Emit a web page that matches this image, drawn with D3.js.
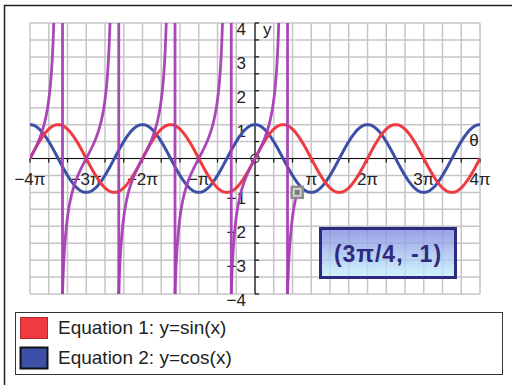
<!DOCTYPE html>
<html>
<head>
<meta charset="utf-8">
<script src="https://cdn.jsdelivr.net/npm/d3@7"></script>
<style>
  html, body { margin: 0; padding: 0; background: #fff; }
  svg { display: block; }
  text { font-family: "Liberation Sans", Arial, sans-serif; }
</style>
</head>
<body>
<svg id="chart" width="512" height="385"></svg>
<script>
const PI = Math.PI;

// Plot window: θ from −4π to 4π, y from −4 to 4
const xDomainPi = [-4, 4];
const yDomain = [-4, 4];

// Tick labels along the θ axis (multiples of π) and the y axis
const xTickMultiples = [-4, -3, -2, -1, 1, 2, 3, 4];
const xTickLabels = ["\u22124\u03c0", "\u22123\u03c0", "\u22122\u03c0", "\u2212\u03c0", "\u03c0", "2\u03c0", "3\u03c0", "4\u03c0"];
const yTickValues = [4, 3, 2, 1, -1, -2, -3, -4];
const yTickLabels = ["4", "3", "2", "1", "\u22121", "\u22122", "\u22123", "\u22124"];

// Graphed equations
const equationNames = ["Equation 1: y=sin(x)", "Equation 2: y=cos(x)"];
const equationFns = [Math.sin, Math.cos];
const equationColors = ["#ef3b40", "#3b50a6"];
const swatchStrokes = ["#b0282c", "#111111"];

// Traced curve y = tan(x), drawn from −4π up to the traced point
const traceStartPi = -4;
const tracePoint = { xPi: 0.75, y: -1, label: "(3\u03c0/4, -1)" };

const svg = d3.select("#chart");

const x = d3.scaleLinear().domain([xDomainPi[0] * PI, xDomainPi[1] * PI]).range([30, 480]);
const y = d3.scaleLinear().domain(yDomain).range([294, 23]);

// Outer frame
svg.append("rect")
  .attr("x", 4.5).attr("y", 5.5).attr("width", 520).attr("height", 400)
  .attr("fill", "#fff").attr("stroke", "#222").attr("stroke-width", 1.5);

// Grid: every π/3 horizontally, every 0.5 vertically
const gridX = d3.range(-12, 13).map(k => k * PI / 3);
const gridY = d3.range(-8, 9).map(k => k * 0.5);
const grid = svg.append("g").attr("stroke", "#c6c6c8").attr("stroke-width", 1.5);
grid.selectAll("line.gx").data(gridX).join("line")
  .attr("x1", d => x(d)).attr("x2", d => x(d))
  .attr("y1", y(yDomain[1])).attr("y2", y(yDomain[0]));
grid.selectAll("line.gy").data(gridY).join("line")
  .attr("x1", x.range()[0]).attr("x2", x.range()[1])
  .attr("y1", d => y(d)).attr("y2", d => y(d));

// Clip to the plot window
svg.append("defs").append("clipPath").attr("id", "plotClip")
  .append("rect")
  .attr("x", x.range()[0]).attr("y", y(yDomain[1]))
  .attr("width", x.range()[1] - x.range()[0])
  .attr("height", y(yDomain[0]) - y(yDomain[1]));

// Axes
const axes = svg.append("g").attr("stroke", "#111").attr("stroke-width", 1.2);
axes.append("line")
  .attr("x1", x.range()[0]).attr("x2", x.range()[1])
  .attr("y1", y(0)).attr("y2", y(0));
axes.append("line")
  .attr("x1", x(0)).attr("x2", x(0))
  .attr("y1", y(yDomain[1])).attr("y2", y(yDomain[0]));
axes.selectAll("line.tx").data(gridX).join("line")
  .attr("x1", d => x(d)).attr("x2", d => x(d))
  .attr("y1", y(0)).attr("y2", y(0) + 4);
axes.selectAll("line.ty").data(gridY).join("line")
  .attr("x1", x(0)).attr("x2", x(0) + 4)
  .attr("y1", d => y(d)).attr("y2", d => y(d));

// Origin marker
svg.append("circle")
  .attr("cx", x(0)).attr("cy", y(0)).attr("r", 4.2)
  .attr("fill", "none").attr("stroke", "#333").attr("stroke-width", 1.2);

// Tick labels
svg.append("g").selectAll("text").data(xTickMultiples).join("text")
  .attr("x", d => x(d * PI)).attr("y", y(0) + 26)
  .attr("text-anchor", "middle").attr("font-size", 17).attr("fill", "#222")
  .text((d, i) => xTickLabels[i]);
svg.append("g").selectAll("text").data(yTickValues).join("text")
  .attr("x", x(0) - 9).attr("y", d => y(d) + 12)
  .attr("text-anchor", "end").attr("font-size", 17).attr("fill", "#222")
  .text((d, i) => yTickLabels[i]);

svg.append("text").attr("x", x(0) + 8).attr("y", y(yDomain[1]) + 12)
  .attr("font-size", 17).attr("fill", "#222").text("y");
svg.append("text").attr("x", x(xDomainPi[1] * PI) - 6).attr("y", y(0) - 13)
  .attr("text-anchor", "middle").attr("font-size", 17).attr("fill", "#222").text("\u03b8");

// sin and cos curves
const plot = svg.append("g").attr("clip-path", "url(#plotClip)");
const samples = d3.range(0, 801).map(i => x.domain()[0] + (x.domain()[1] - x.domain()[0]) * i / 800);
const line = d3.line().x(d => x(d[0])).y(d => y(d[1]));
[1, 0].forEach(i => {
  plot.append("path")
    .datum(samples.map(t => [t, equationFns[i](t)]))
    .attr("d", line)
    .attr("fill", "none").attr("stroke", equationColors[i])
    .attr("stroke-width", 3).attr("stroke-linejoin", "round");
});

// tan trace: one branch per interval between asymptotes, joined by the
// plotter's vertical jump where each new branch enters from below
const traceStart = traceStartPi * PI, traceEnd = tracePoint.xPi * PI;
const asymptotes = d3.range(-4, 1).map(k => (k + 0.5) * PI).filter(a => a > traceStart && a < traceEnd);
const bounds = [traceStart, ...asymptotes, traceEnd];
const purple = "#a63db4";
for (let b = 0; b < bounds.length - 1; b++) {
  const lo = b === 0 ? bounds[b] : bounds[b] + Math.atan(1 / 12);
  const hi = b === bounds.length - 2 ? bounds[b + 1] : bounds[b + 1] - Math.atan(1 / 12);
  const pts = d3.range(0, 301).map(i => {
    const t = lo + (hi - lo) * i / 300;
    return [t, Math.tan(t)];
  });
  plot.append("path").datum(pts).attr("d", line)
    .attr("fill", "none").attr("stroke", purple).attr("stroke-width", 2.8)
    .attr("stroke-opacity", 0.95);
}
asymptotes.forEach(a => {
  const jx = a + Math.atan(1 / yDomain[1]);
  plot.append("line")
    .attr("x1", x(jx)).attr("x2", x(jx))
    .attr("y1", y(yDomain[1])).attr("y2", y(yDomain[0]))
    .attr("stroke", purple).attr("stroke-width", 2.8).attr("stroke-opacity", 0.95);
});

// Trace cursor
const cx = x(tracePoint.xPi * PI), cy = y(tracePoint.y);
svg.append("rect").attr("x", cx - 5.5).attr("y", cy - 5.5).attr("width", 11).attr("height", 11)
  .attr("fill", "#d8d8d8").attr("stroke", "#8c8c8c").attr("stroke-width", 2.5);
svg.append("rect").attr("x", cx - 2.5).attr("y", cy - 2.5).attr("width", 5).attr("height", 5)
  .attr("fill", "#7a7a7a");

// Coordinate read-out box
const grad = svg.select("defs").append("linearGradient")
  .attr("id", "boxFill").attr("x1", 0).attr("y1", 0).attr("x2", 0).attr("y2", 1);
grad.append("stop").attr("offset", 0).attr("stop-color", "#7e84dd");
grad.append("stop").attr("offset", 1).attr("stop-color", "#c4f3fc");
svg.append("rect").attr("x", 320.5).attr("y", 228.5).attr("width", 135).attr("height", 49)
  .attr("fill", "url(#boxFill)").attr("fill-opacity", 0.78)
  .attr("stroke", "#2d2a80").attr("stroke-width", 3);
svg.append("text").attr("x", 388).attr("y", 262)
  .attr("text-anchor", "middle").attr("font-size", 23).attr("font-weight", "bold")
  .attr("letter-spacing", 1).attr("fill", "#2d2a80")
  .text(tracePoint.label);

// Legend
svg.append("rect").attr("x", 15.5).attr("y", 312.5).attr("width", 487).attr("height", 62)
  .attr("fill", "#fff").attr("stroke", "#333").attr("stroke-width", 1);
const leg = svg.append("g").selectAll("g").data(equationNames).join("g")
  .attr("transform", (d, i) => `translate(0, ${i * 30})`);
leg.append("rect").attr("x", 20.5).attr("y", 317.5).attr("width", 27).attr("height", 21)
  .attr("fill", (d, i) => equationColors[i])
  .attr("stroke", (d, i) => swatchStrokes[i]).attr("stroke-width", (d, i) => i === 1 ? 2 : 1);
leg.append("text").attr("x", 58).attr("y", 334)
  .attr("font-size", 19).attr("fill", "#222").text(d => d);
</script>
</body>
</html>
